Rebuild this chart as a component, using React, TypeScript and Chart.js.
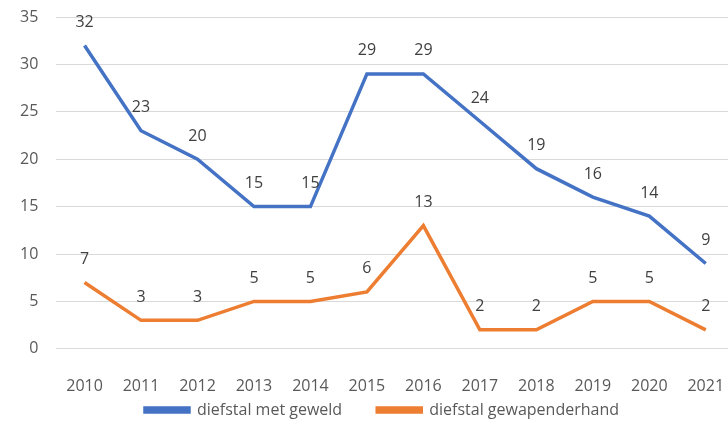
import React, { useEffect, useRef } from "react";
import { Chart, registerables } from "chart.js";

Chart.register(...registerables);

const years = ["2010", "2011", "2012", "2013", "2014", "2015", "2016", "2017", "2018", "2019", "2020", "2021"];
const metGeweld = [32, 23, 20, 15, 15, 29, 29, 24, 19, 16, 14, 9];
const gewapenderhand = [7, 3, 3, 5, 5, 6, 13, 2, 2, 5, 5, 2];
const seriesNames = ["diefstal met geweld", "diefstal gewapenderhand"];
const blue = "#4472C4";
const orange = "#ED7D31";
const textColor = "#595959";
const fontFamily = "'Open Sans', Lato, sans-serif";
const xTickPad = 28;
const legendShift = 14;

const labelPlugin = {
  id: "pointLabels",
  afterLayout(chart: any) {
    if (chart.legend) {
      chart.legend.left += legendShift;
      chart.legend.right += legendShift;
    }
  },
  afterDatasetsDraw(chart: any) {
    const ctx = chart.ctx;
    ctx.save();
    ctx.font = `16px ${fontFamily}`;
    ctx.fillStyle = "#404040";
    ctx.textAlign = "center";
    ctx.textBaseline = "middle";
    chart.data.datasets.forEach((ds: any, i: number) => {
      const meta = chart.getDatasetMeta(i);
      meta.data.forEach((pt: any, j: number) => {
        ctx.fillText(String(ds.data[j]), pt.x, pt.y - 23);
      });
    });
    ctx.restore();
  },
};

export default function App() {
  const ref = useRef<HTMLCanvasElement>(null);
  useEffect(() => {
    const chart = new Chart(ref.current!, {
      type: "line",
      data: {
        labels: years,
        datasets: [
          {
            label: seriesNames[0],
            data: metGeweld,
            borderColor: blue,
            backgroundColor: blue,
            borderWidth: 3.5,
            pointRadius: 0,
            tension: 0,
          },
          {
            label: seriesNames[1],
            data: gewapenderhand,
            borderColor: orange,
            backgroundColor: orange,
            borderWidth: 3.5,
            pointRadius: 0,
            tension: 0,
          },
        ],
      },
      options: {
        animation: false,
        responsive: false,
        layout: { padding: { top: 17, left: 2, right: 0, bottom: 0 } },
        plugins: {
          tooltip: { enabled: false },
          legend: {
            position: "bottom",
            labels: {
              boxWidth: 44,
              boxHeight: 4,
              padding: 6,
              color: textColor,
              font: { family: fontFamily, size: 16 },
              generateLabels: (c: any) => {
                const items = Chart.defaults.plugins.legend.labels.generateLabels(c);
                items.forEach((it: any, i: number) => {
                  if (i === 0) it.text = it.text + "       ";
                });
                return items;
              },
            },
          },
        },
        scales: {
          x: {
            offset: true,
            grid: { display: false, drawTicks: false },
            border: { display: true, color: "#d9d9d9" },
            ticks: { color: textColor, font: { family: fontFamily, size: 16 }, padding: xTickPad },
            afterFit: (s: any) => {
              s.paddingLeft = 0;
              s.paddingRight = 0;
              s.height -= xTickPad;
            },
          },
          y: {
            min: 0,
            max: 35,
            ticks: { stepSize: 5, color: textColor, font: { family: fontFamily, size: 16 }, padding: 18 },
            grid: { color: "#d9d9d9", drawTicks: false },
            border: { display: false },
            afterFit: (s: any) => {
              s.paddingTop = 0;
              s.paddingBottom = 0;
            },
          },
        },
      },
      plugins: [labelPlugin],
    });
    return () => chart.destroy();
  }, []);
  return (
    <div style={{ position: "fixed", left: 0, top: 0, width: 728, height: 428, overflow: "hidden", background: "#fff" }}>
      <canvas ref={ref} width={734} height={428} />
    </div>
  );
}
